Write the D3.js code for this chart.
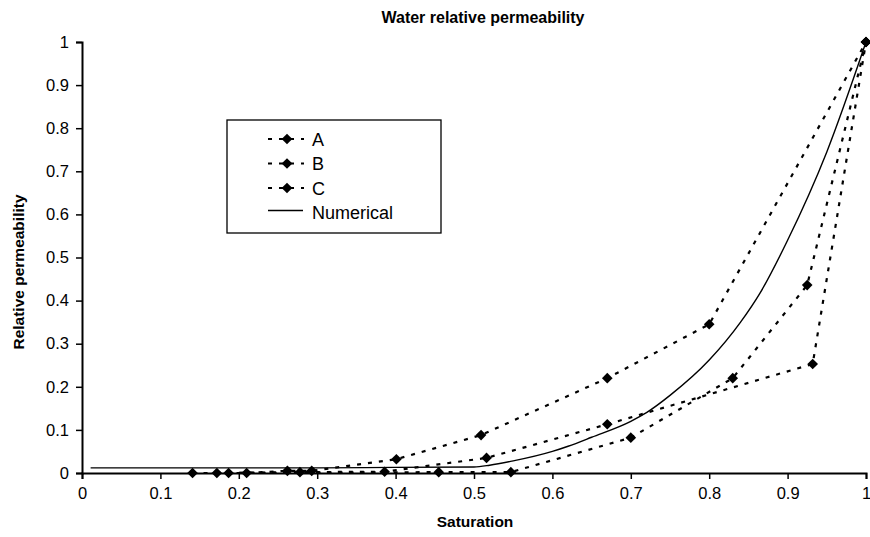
<!DOCTYPE html>
<html>
<head>
<meta charset="utf-8">
<script src="https://cdn.jsdelivr.net/npm/d3@7"></script>
<style>
  html, body { margin: 0; padding: 0; background: #fff; }
  svg { display: block; font-family: "Liberation Sans", Arial, sans-serif; }
</style>
</head>
<body>
<svg id="chart" width="870" height="537"></svg>
<script>
// Measured relative permeability curves (saturation, kr)
const seriesA = [
  [0.141, 0.000], [0.210, 0.000], [0.262, 0.005], [0.293, 0.005],
  [0.401, 0.032], [0.509, 0.088], [0.670, 0.220], [0.800, 0.345], [1.000, 1.000]
];
const seriesB = [
  [0.172, 0.000], [0.278, 0.002], [0.386, 0.003], [0.516, 0.035],
  [0.670, 0.113], [0.932, 0.253], [1.000, 1.000]
];
const seriesC = [
  [0.187, 0.000], [0.455, 0.002], [0.547, 0.002], [0.700, 0.082],
  [0.830, 0.220], [0.925, 0.436], [1.000, 1.000]
];
// Numerical solution
const numerical = [
  [0.011, 0.012], [0.100, 0.012], [0.200, 0.012], [0.300, 0.012], [0.400, 0.013],
  [0.500, 0.014], [0.520, 0.018], [0.550, 0.028], [0.600, 0.050], [0.620, 0.062],
  [0.650, 0.083], [0.700, 0.120], [0.720, 0.140], [0.750, 0.180], [0.800, 0.262],
  [0.840, 0.350], [0.865, 0.418], [0.900, 0.540], [0.950, 0.745], [1.000, 1.000]
];
const seriesNames = ["A", "B", "C"];
const xTicks = [0, 0.1, 0.2, 0.3, 0.4, 0.5, 0.6, 0.7, 0.8, 0.9, 1];
const yTicks = [0, 0.1, 0.2, 0.3, 0.4, 0.5, 0.6, 0.7, 0.8, 0.9, 1];

const svg = d3.select("#chart");
const plotLeft = 82, plotRight = 866, plotTop = 42, plotBottom = 473;

const x = d3.scaleLinear().domain([0, 1]).range([plotLeft, plotRight]);
const y = d3.scaleLinear().domain([0, 1]).range([plotBottom, plotTop]);

// Axes
const xAxis = svg.append("g")
  .attr("transform", `translate(0,${plotBottom})`)
  .call(d3.axisBottom(x).tickValues(xTicks).tickSize(6).tickPadding(8)
    .tickFormat(d => d3.format("")(d)));
const yAxis = svg.append("g")
  .attr("transform", `translate(${plotLeft},0)`)
  .call(d3.axisLeft(y).tickValues(yTicks).tickSize(6).tickPadding(7)
    .tickFormat(d => d3.format("")(d)));
[xAxis, yAxis].forEach(g => {
  g.select(".domain").attr("stroke", "#000").attr("stroke-width", 2);
  g.selectAll(".tick line").attr("stroke", "#000").attr("stroke-width", 1.5);
  g.selectAll(".tick text").attr("fill", "#000").style("font-size", "16.5px")
    .style("font-family", "'Liberation Sans', Arial, sans-serif");
});

const line = d3.line().x(d => x(d[0])).y(d => y(d[1]));
const smooth = d3.line().x(d => x(d[0])).y(d => y(d[1])).curve(d3.curveMonotoneX);

// Dashed experimental series with diamond markers
const diamond = d3.symbol().type(d3.symbolDiamond2).size(72);
[seriesA, seriesB, seriesC].forEach(s => {
  svg.append("path").datum(s)
    .attr("d", line)
    .attr("fill", "none")
    .attr("stroke", "#000")
    .attr("stroke-width", 2.2)
    .attr("stroke-dasharray", "4,7");
  svg.append("g").selectAll("path").data(s).join("path")
    .attr("transform", d => `translate(${x(d[0])},${y(d[1])})`)
    .attr("d", diamond)
    .attr("fill", "#000");
});

// Numerical curve
svg.append("path").datum(numerical)
  .attr("d", smooth)
  .attr("fill", "none")
  .attr("stroke", "#000")
  .attr("stroke-width", 1.4);

// Titles
svg.append("text")
  .attr("x", 483).attr("y", 23)
  .attr("text-anchor", "middle")
  .style("font-size", "16px").style("font-weight", "bold")
  .text("Water relative permeability");
svg.append("text")
  .attr("x", 475).attr("y", 527)
  .attr("text-anchor", "middle")
  .style("font-size", "15.5px").style("font-weight", "bold")
  .text("Saturation");
svg.append("text")
  .attr("transform", "translate(24,272) rotate(-90)")
  .attr("text-anchor", "middle")
  .style("font-size", "15.5px").style("font-weight", "bold")
  .text("Relative permeability");

// Legend
const legend = svg.append("g");
legend.append("rect")
  .attr("x", 227).attr("y", 120).attr("width", 214).attr("height", 113)
  .attr("fill", "#fff").attr("stroke", "#000").attr("stroke-width", 1.3);
const legendRows = seriesNames.concat(["Numerical"]);
legendRows.forEach((name, i) => {
  const ly = 139 + i * 24.5;
  const g = legend.append("g");
  if (i < 3) {
    g.append("line")
      .attr("x1", 268).attr("x2", 304).attr("y1", ly).attr("y2", ly)
      .attr("stroke", "#000").attr("stroke-width", 2.2)
      .attr("stroke-dasharray", "4,7");
    g.append("path")
      .attr("transform", `translate(287,${ly})`)
      .attr("d", diamond).attr("fill", "#000");
  } else {
    g.append("line")
      .attr("x1", 268).attr("x2", 303).attr("y1", ly - 2).attr("y2", ly - 2)
      .attr("stroke", "#000").attr("stroke-width", 1.4);
  }
  g.append("text")
    .attr("x", 312).attr("y", ly + 6.5)
    .style("font-size", "18px")
    .text(name);
});
</script>
</body>
</html>
